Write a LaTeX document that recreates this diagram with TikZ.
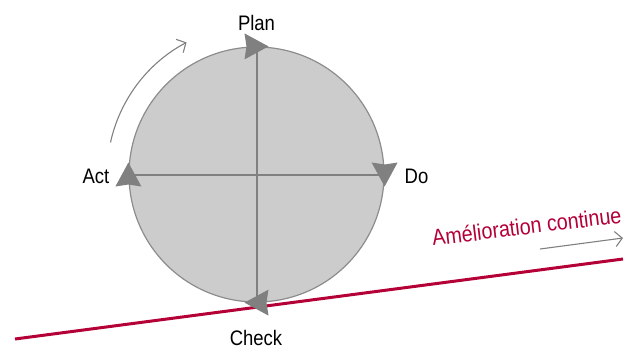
\documentclass[tikz,border=0pt]{standalone}
\usepackage{fontspec}
\setmainfont{Liberation Sans}[FakeStretch=0.88]
\usetikzlibrary{arrows.meta}
\definecolor{pdcared}{RGB}{180,0,55}
\definecolor{pdcagray}{RGB}{128,128,128}
\definecolor{pdcaedge}{RGB}{140,140,140}
\definecolor{pdcafill}{RGB}{204,204,204}
\begin{document}
\begin{tikzpicture}[x=1pt,y=-1pt,
  lbl/.style={font=\fontsize{21}{24}\selectfont, anchor=base, inner sep=0pt},
  wheel/.style={circle, minimum size=255pt, inner sep=0pt, fill=pdcafill, draw=pdcaedge, line width=1.2pt},
  crossline/.style={draw=pdcagray, line width=2pt},
  tipfill/.style={fill=pdcagray},
  redline/.style={draw=pdcared, line width=3pt},
  thinarrow/.style={draw=pdcagray, line width=1.1pt}]
\useasboundingbox (0,0) rectangle (633,349);
% wheel
\node[wheel] (c) at (256.5,174.5) {};
\draw[crossline] (c.north) -- (c.south);
\draw[crossline] (c.west) -- (c.east);
% improvement line
\coordinate (rl0) at (15,339);
\coordinate (rl1) at (623,259);
\draw[redline] (rl0) -- (rl1);
% direction triangles
\foreach \a/\r in {north/0, east/-90, south/180, west/90}{
  \fill[tipfill, shift={(c.\a)}, rotate=\r] (12,0) -- (-12,-13) -- (-10,0) -- (-12,13) -- cycle;
}
% labels
\node[lbl] (plan) at (256.5,30) {Plan};
\node[lbl] (do) at (416.5,183) {Do};
\node[lbl] (check) at (256,345) {Check};
\node[lbl] (act) at (96,183) {Act};
% rotation arrow
\draw[thinarrow, -{Straight Barb[length=7pt,width=15pt]}] (c.center) ++(-167.6:149.5) arc[start angle=-167.6, end angle=-117.9, radius=149.5];
% continuous improvement
\node[font=\fontsize{22.5}{24}\selectfont, text=pdcared, anchor=base west, inner sep=0pt, rotate=7] (ameli) at (433,246) {Amélioration continue};
\coordinate (ga0) at (540,249);
\coordinate (ga1) at (623,238);
\draw[thinarrow, -{Straight Barb[length=7pt,width=15pt]}] (ga0) -- (ga1);
\end{tikzpicture}
\end{document}
